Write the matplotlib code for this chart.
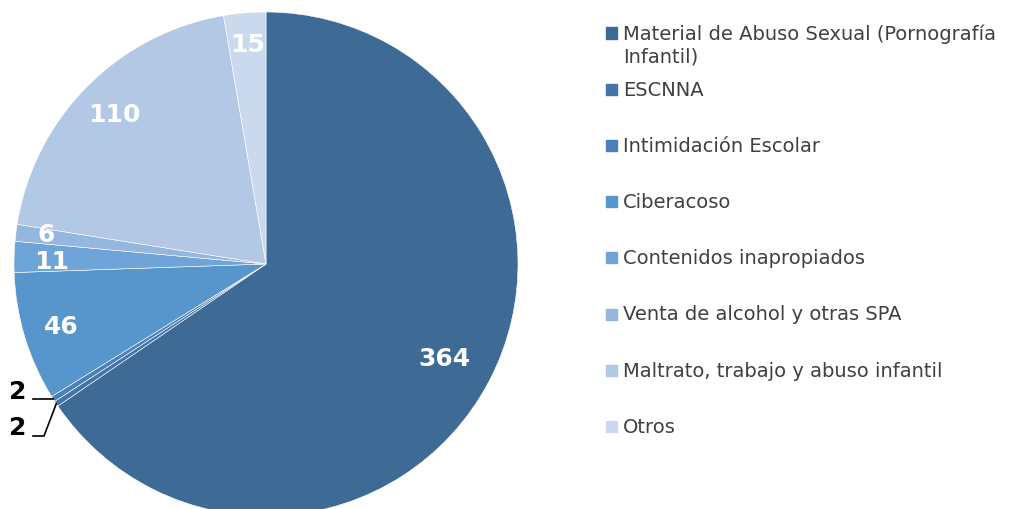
import numpy as np
import matplotlib.pyplot as plt

# Datos del gráfico
categorias = ['Material de Abuso Sexual (Pornografía\nInfantil)', 'ESCNNA',
              'Intimidación Escolar', 'Ciberacoso', 'Contenidos inapropiados',
              'Venta de alcohol y otras SPA', 'Maltrato, trabajo y abuso infantil',
              'Otros']
valores = [364, 2, 2, 46, 11, 6, 110, 15]
colores = ['#3E6A96', '#4474A8', '#4A80BA', '#5795CD', '#6FA4D8',
           '#95B6DE', '#B2C8E4', '#CBD9EE']

W, H = 1036, 510
fig = plt.figure(figsize=(W / 100, H / 100), dpi=100)

# pastel: centro (266, 265) px, radio 252 px
cx, cy, R = 266, 265, 252
ax = fig.add_axes([(cx - R) / W, (H - cy - R) / H, 2 * R / W, 2 * R / H])
wedges, _ = ax.pie(valores, colors=colores, startangle=90, counterclock=False,
                   radius=1, wedgeprops=dict(edgecolor='white', linewidth=0.4))
ax.set_xlim(-1, 1)
ax.set_ylim(-1, 1)
ax.set_aspect('equal')
ax.axis('off')

# etiquetas dentro de las porciones
radios_etiqueta = [0.80, None, None, 0.85, 0.85, 0.88, 0.845, 0.875]
ajuste_y = [0, 0, 0, 0, -0.012, 0.01, 0, 0]
for w, v, r, dy in zip(wedges, valores, radios_etiqueta, ajuste_y):
    if r is None:
        continue
    ang = np.deg2rad((w.theta1 + w.theta2) / 2)
    ax.text(r * np.cos(ang), r * np.sin(ang) + dy, str(v), color='white',
            fontsize=18, fontweight='bold', ha='center', va='center')

# etiquetas externas con líneas guía (porciones pequeñas)
def px(x, y):
    return (x - cx) / R, (cy - y) / R

externas = [(2, (18, 392), [(33, 400), (50, 400)]),
            (1, (18, 428), [(33, 437), (44, 437)])]
for i, pos, codo in externas:
    w = wedges[i]
    ang = np.deg2rad((w.theta1 + w.theta2) / 2)
    ex, ey = np.cos(ang), np.sin(ang)
    pts = [px(*p) for p in codo] + [(ex, ey)]
    ax.plot([p[0] for p in pts], [p[1] for p in pts], color='black', lw=1.2,
            clip_on=False)
    tx, ty = px(*pos)
    ax.text(tx, ty, str(valores[i]), color='black', fontsize=18,
            fontweight='bold', ha='center', va='center')

# leyenda manual
y0, paso = 34, 56.2
for i, (lab, col) in enumerate(zip(categorias, colores)):
    y = y0 + paso * i
    fig.patches.append(plt.Rectangle((606 / W, 1 - (y + 5.5) / H), 11 / W, 11 / H,
                                     transform=fig.transFigure, color=col))
    for j, linea in enumerate(lab.split('\n')):
        fig.text(623 / W, 1 - (y + 23 * j) / H, linea, fontsize=14,
                 color='#404040', ha='left', va='center')

plt.savefig('out.png', dpi=100)
